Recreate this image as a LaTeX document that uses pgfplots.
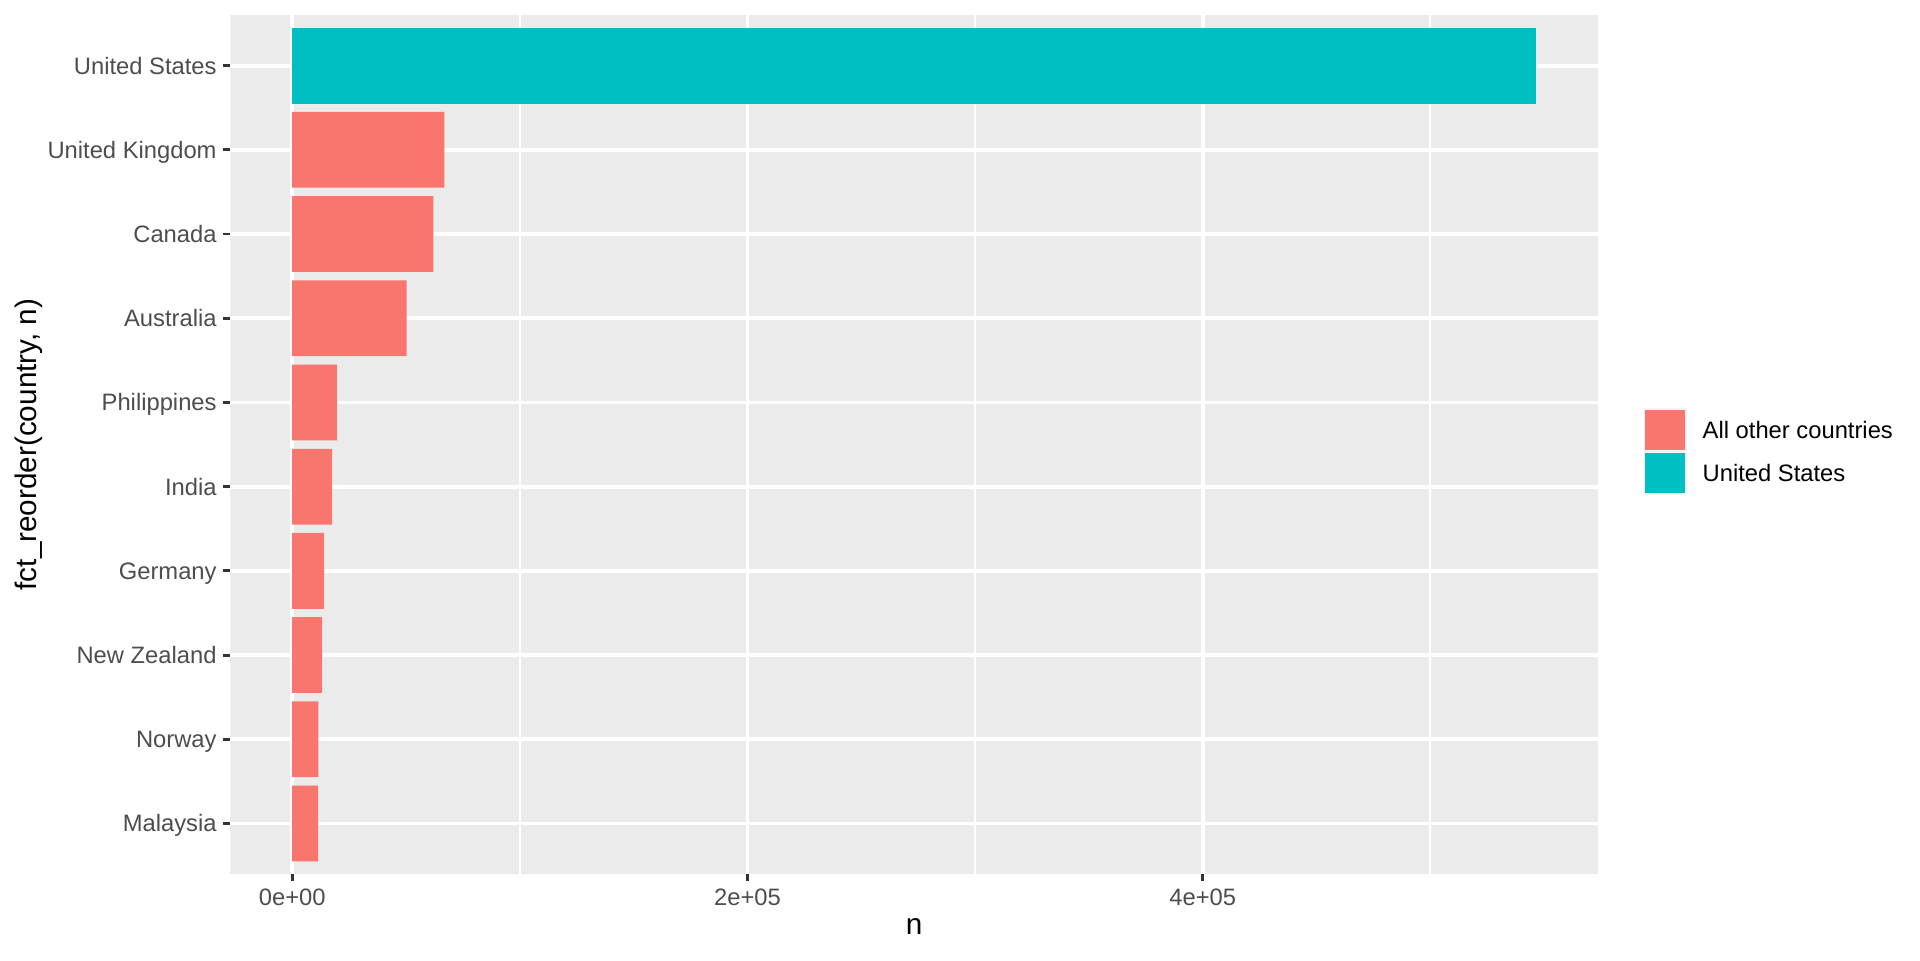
\documentclass[border=0pt]{standalone}
\usepackage{fontspec}
\setmainfont{Liberation Sans}
\usepackage{pgfplots}
\pgfplotsset{compat=1.18}
\definecolor{ggred}{HTML}{F8766D}
\definecolor{ggcyan}{HTML}{00BFC4}
\definecolor{ggbg}{HTML}{EBEBEB}
\definecolor{ggtick}{HTML}{333333}
\definecolor{ggtext}{HTML}{4D4D4D}
\definecolor{ggkey}{HTML}{F2F2F2}
\begin{document}
\begin{tikzpicture}
\path[use as bounding box] (0,0) rectangle (711.1pt,355.6pt);
\begin{axis}[
  at={(85.2pt,31.9pt)}, anchor=south west,
  scale only axis, width=506.7pt, height=318.1pt,
  xbar, bar width=0.9, bar shift=0pt,
  xmin=-27320, xmax=573720, ymin=0.4, ymax=10.6,
  axis line style={draw=none},
  axis background/.style={fill=ggbg},
  xtick={0,200000,400000},
  xticklabels={0e+00,2e+05,4e+05},
  minor xtick={100000,300000,500000},
  scaled x ticks=false,
  ytick={1,...,10},
  yticklabels={Malaysia,Norway,New Zealand,Germany,India,Philippines,Australia,Canada,United Kingdom,United States},
  xtick pos=lower, ytick pos=left,
  tick align=outside,
  major tick length=2.75pt, minor tick length=0pt,
  tick style={ggtick, line width=1.07pt},
  xmajorgrids, xminorgrids, ymajorgrids,
  major grid style={white, line width=1.42pt},
  minor grid style={white, line width=0.71pt},
  ticklabel style={font=\fontsize{8.8}{10}\selectfont, text=ggtext},
  xticklabel style={yshift=0.8pt},
  yticklabel style={xshift=1.3pt, text height=6.3pt, text depth=0pt},
  xlabel={n},
  ylabel={fct\_reorder(country, n)},
  label style={font=\fontsize{11}{13}\selectfont, text=black},
  xlabel style={at={(axis description cs:0.5,-0.0616)}, anchor=center},
  ylabel style={at={(axis description cs:-0.147,0.5)}, anchor=center},
  legend image code/.code={
    \fill[ggkey] (0pt,-8pt) rectangle (16pt,8pt);
    \fill (0.7pt,-7.3pt) rectangle (15.3pt,7.3pt);
  },
  legend style={at={(axis description cs:1.0328,0.492)}, anchor=west,
    draw=none, fill=none, inner sep=0pt, row sep=0pt,
    font=\fontsize{8.8}{10}\selectfont,
    nodes={minimum height=16pt, inner ysep=0pt, inner xsep=0pt, text depth=0pt}},
  legend cell align=left,
]
\addplot[fill=ggred, draw=none] coordinates {
  (11400,1) (11500,2) (13100,3) (14000,4) (17500,5)
  (19700,6) (50200,7) (62000,8) (66800,9)
};
\addplot[fill=ggcyan, draw=none] coordinates {
  (546400,10)
};
\legend{\hspace{5.9pt}All other countries, \hspace{5.9pt}United States}
\end{axis}
\end{tikzpicture}
\end{document}
